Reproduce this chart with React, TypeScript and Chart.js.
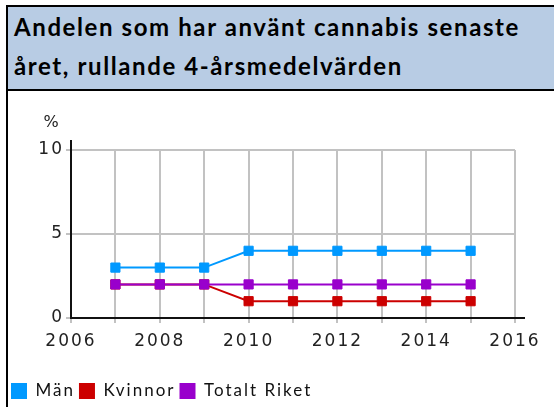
import React, { useEffect, useRef } from "react";
import { Chart, registerables } from "chart.js";

Chart.register(...registerables);

const years = [2007, 2008, 2009, 2010, 2011, 2012, 2013, 2014, 2015];
const man = [3, 3, 3, 4, 4, 4, 4, 4, 4];
const kvinnor = [2, 2, 2, 1, 1, 1, 1, 1, 1];
const totalt = [2, 2, 2, 2, 2, 2, 2, 2, 2];
const seriesNames = ["Män", "Kvinnor", "Totalt Riket"];
const seriesColors = ["#0099ff", "#cc0000", "#9900cc"];
const titleLines = ["Andelen som har använt cannabis senaste", "året, rullande 4-årsmedelvärden"];
const yUnit = "%";
const xMin = 2006;
const xMax = 2016;
const yMin = 0;
const yMax = 10;

export default function App() {
  const canvasRef = useRef<HTMLCanvasElement | null>(null);

  useEffect(() => {
    const canvas = canvasRef.current;
    if (!canvas) return;

    const spacingPlugin = {
      id: "spacing",
      beforeDraw(chart: any) {
        (chart.ctx as any).letterSpacing = "2px";
      },
      beforeDatasetsDraw(chart: any) {
        const { ctx, chartArea } = chart;
        ctx.save();
        ctx.strokeStyle = "#111";
        ctx.lineWidth = 2;
        ctx.beginPath();
        ctx.moveTo(chartArea.left, chartArea.bottom);
        ctx.lineTo(chartArea.right + 10, chartArea.bottom);
        ctx.moveTo(chartArea.left, chartArea.bottom + 1);
        ctx.lineTo(chartArea.left, chartArea.top - 10);
        ctx.stroke();
        ctx.restore();
      },
      afterDraw(chart: any) {
        const { ctx, chartArea } = chart;
        ctx.save();
        (ctx as any).letterSpacing = "0px";
        ctx.font = "16px 'DejaVu Sans'";
        ctx.fillStyle = "#222";
        ctx.textAlign = "center";
        ctx.textBaseline = "middle";
        ctx.fillText(yUnit, chartArea.left - 20, chartArea.top - 27);
        ctx.restore();
      },
    };

    const mk = (vals: number[], i: number, order: number) => ({
      label: seriesNames[i],
      data: years.map((y, k) => ({ x: y, y: vals[k] })),
      borderColor: seriesColors[i],
      backgroundColor: seriesColors[i],
      borderWidth: 2,
      pointStyle: "rect",
      pointRadius: 6.5,
      pointBorderWidth: 1,
      pointBackgroundColor: seriesColors[i],
      pointBorderColor: seriesColors[i],
      order,
    });

    const chart = new Chart(canvas, {
      type: "line",
      data: {
        datasets: [mk(man, 0, 0), mk(kvinnor, 1, 2), mk(totalt, 2, 1)],
      },
      options: {
        animation: false,
        responsive: false,
        maintainAspectRatio: false,
        layout: { padding: { left: 7, right: 39, top: 150, bottom: 2.5 } },
        plugins: {
          tooltip: { enabled: false },
          title: { display: false },
          legend: {
            display: true,
            position: "bottom",
            align: "start",
            labels: {
              boxWidth: 16,
              boxHeight: 16,
              padding: 4,
              color: "#111",
              font: { family: "Lato", size: 17 },
              generateLabels: (c: any) =>
                (Chart.defaults.plugins.legend.labels as any)
                  .generateLabels(c)
                  .map((l: any) => ({ ...l, lineWidth: 0 }))
                  .sort((a: any, b: any) => a.datasetIndex - b.datasetIndex),
            },
          },
        },
        scales: {
          x: {
            type: "linear",
            min: xMin,
            max: xMax,
            afterFit: (s: any) => {
              s.height = 60.5;
            },
            border: { display: false },
            grid: { color: "#c2c2c2", lineWidth: 2, tickLength: 5, drawTicks: true },
            ticks: {
              stepSize: 1,
              autoSkip: false,
              maxRotation: 0,
              padding: 8,
              color: "#222",
              font: { family: "DejaVu Sans", size: 17 },
              callback: (v: any) => (Number(v) % 2 === 0 ? String(v) : ""),
            },
          },
          y: {
            min: yMin,
            max: yMax,
            afterFit: (s: any) => {
              s.width = 64;
            },
            border: { display: false },
            grid: { color: "#c2c2c2", lineWidth: 2, tickLength: 5, drawTicks: true },
            ticks: {
              stepSize: 5,
              padding: 2,
              color: "#222",
              font: { family: "DejaVu Sans", size: 17 },
            },
          },
        },
      },
      plugins: [spacingPlugin],
    } as any);

    return () => chart.destroy();
  }, []);

  return (
    <div
      style={{
        position: "absolute",
        left: 0,
        top: 0,
        width: 554,
        height: 407,
        overflow: "hidden",
        background: "#fff",
      }}
    >
      <canvas
        ref={canvasRef}
        width={554}
        height={412}
        style={{ position: "absolute", left: 0, top: 0, width: 554, height: 412 }}
      />
      <div
        style={{
          position: "absolute",
          left: 6,
          top: 5,
          width: 548,
          height: 86,
          boxSizing: "border-box",
          borderTop: "2px solid #000",
          borderBottom: "2px solid #000",
          borderLeft: "2px solid #000",
          background: "#b8cce4",
          paddingLeft: 6,
          paddingTop: 0,
          fontFamily: "Lato",
          fontWeight: 700,
          fontSize: 24,
          letterSpacing: "1.6px",
          lineHeight: "39px",
          color: "#000",
          whiteSpace: "nowrap",
        }}
      >
        {titleLines.map((t) => (
          <div key={t}>{t}</div>
        ))}
      </div>
      <div
        style={{
          position: "absolute",
          left: 6,
          top: 91,
          width: 2,
          height: 316,
          background: "#000",
        }}
      />
    </div>
  );
}
